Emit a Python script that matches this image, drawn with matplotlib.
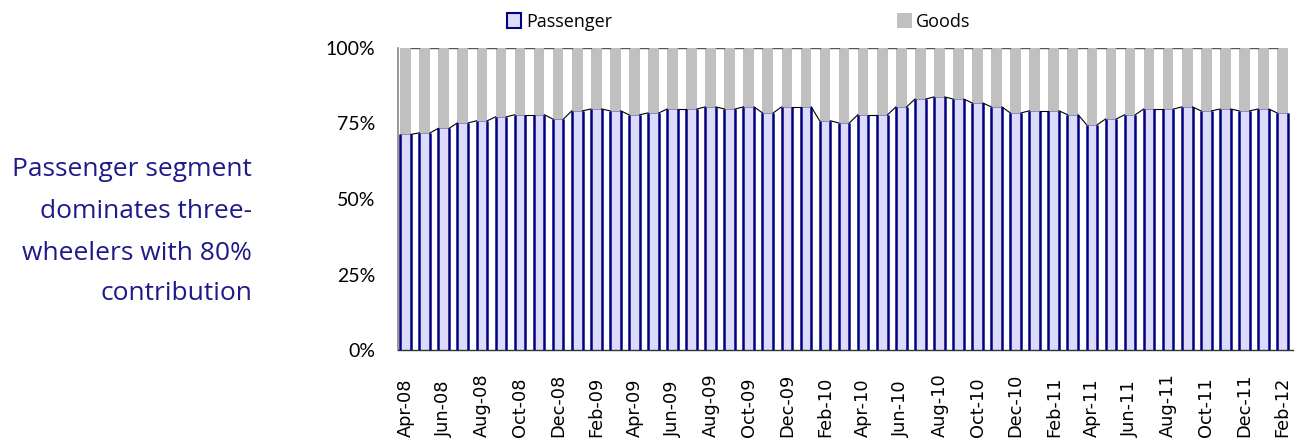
import matplotlib
matplotlib.use("Agg")
import matplotlib.pyplot as plt
import matplotlib.transforms as mtransforms
from matplotlib.patches import Patch

# Monthly share of three-wheeler sales (%), Apr-08 .. Feb-12
months = ["Apr-08", "May-08", "Jun-08", "Jul-08", "Aug-08", "Sep-08", "Oct-08", "Nov-08", "Dec-08",
          "Jan-09", "Feb-09", "Mar-09", "Apr-09", "May-09", "Jun-09", "Jul-09", "Aug-09", "Sep-09",
          "Oct-09", "Nov-09", "Dec-09", "Jan-10", "Feb-10", "Mar-10", "Apr-10", "May-10", "Jun-10",
          "Jul-10", "Aug-10", "Sep-10", "Oct-10", "Nov-10", "Dec-10", "Jan-11", "Feb-11", "Mar-11",
          "Apr-11", "May-11", "Jun-11", "Jul-11", "Aug-11", "Sep-11", "Oct-11", "Nov-11", "Dec-11",
          "Jan-12", "Feb-12"]
passenger = [71.4, 71.9, 73.4, 75.2, 75.9, 77.2, 77.9, 77.9, 76.5,
             79.2, 79.8, 79.2, 77.9, 78.5, 79.8, 79.8, 80.5, 79.8,
             80.5, 78.5, 80.5, 80.5, 75.9, 75.2, 77.9, 77.9, 80.5,
             83.1, 83.8, 83.1, 81.8, 80.5, 78.5, 79.2, 79.2, 77.9,
             74.6, 76.5, 77.9, 79.8, 79.8, 80.5, 79.2, 79.8, 79.2,
             79.8, 78.5]
goods = [100 - p for p in passenger]
y_ticks = [0, 25, 50, 75, 100]
note_lines = ["Passenger segment", "dominates three-", "wheelers with 80%", "contribution"]

W, H = 1303, 442
fig = plt.figure(figsize=(W / 100, H / 100), dpi=100)
ax = fig.add_axes([398 / W, 1 - 350 / H, (1293 - 398) / W, 302 / H])

n = len(months)
x = list(range(n))
bw = 0.56
pass_fill = "#dcdcfa"
navy = "#000080"
grey = "#c0c0c0"

ax.bar(x, passenger, width=bw, color=pass_fill, edgecolor="#7a7ab8", linewidth=0.6, zorder=2)
ax.bar(x, goods, bottom=passenger, width=bw, color=grey, edgecolor="none", zorder=2)
# strong navy sides on passenger columns
ax.vlines([i - bw / 2 for i in x], 0, passenger, color=navy, lw=1.8, zorder=3)
ax.vlines([i + bw / 2 for i in x], 0, passenger, color=navy, lw=1.8, zorder=3)

# series lines across the gaps between columns
for i in range(n - 1):
    ax.plot([i + bw / 2, i + 1 - bw / 2], [passenger[i], passenger[i + 1]],
            color="black", lw=0.8, zorder=4)
    ax.plot([i + bw / 2, i + 1 - bw / 2], [100, 100], color="#555555", lw=1.0, zorder=4)

ax.set_xlim(-0.4, n - 1 + 0.55)
ax.set_ylim(0, 100)
ax.set_yticks(y_ticks)
ax.set_yticklabels([f"{t}%" for t in y_ticks], family="Lato", fontsize=14)
ax.tick_params(axis="y", length=0, pad=16.5)
ax.set_xticks([])
for side in ("top", "right"):
    ax.spines[side].set_visible(False)
ax.spines["left"].set_color("#888888")
ax.spines["left"].set_linewidth(1.2)
ax.spines["bottom"].set_color("#333333")
ax.spines["bottom"].set_linewidth(1.0)

# rotated month labels, anchored at their start
trans = mtransforms.blended_transform_factory(ax.transData, fig.transFigure)
for i in range(0, n, 2):
    ax.text(i, 5 / H, months[i], rotation=90, ha="center", va="bottom",
            fontsize=12.8, family="DejaVu Sans", transform=trans)

# legend
handles = [Patch(facecolor=pass_fill, edgecolor=navy, linewidth=1.5, label="Passenger"),
           Patch(facecolor=grey, edgecolor="none", label="Goods")]
fig.legend(handles=handles, loc="center left", bbox_to_anchor=(507 / W, 1 - 22 / H), ncol=2,
           frameon=False, handlelength=0.8, handleheight=0.9, handletextpad=0.25,
           columnspacing=15.8, borderpad=0, borderaxespad=0,
           prop={"family": "Open Sans", "size": 13})

# side note
note_y = [169, 211, 253, 293]
for txt, yy in zip(note_lines, note_y):
    fig.text(252 / W, 1 - yy / H, txt, ha="right", va="center", family="Open Sans",
             fontsize=19, color="#1e1a8a")

fig.savefig("out.png", dpi=100)
